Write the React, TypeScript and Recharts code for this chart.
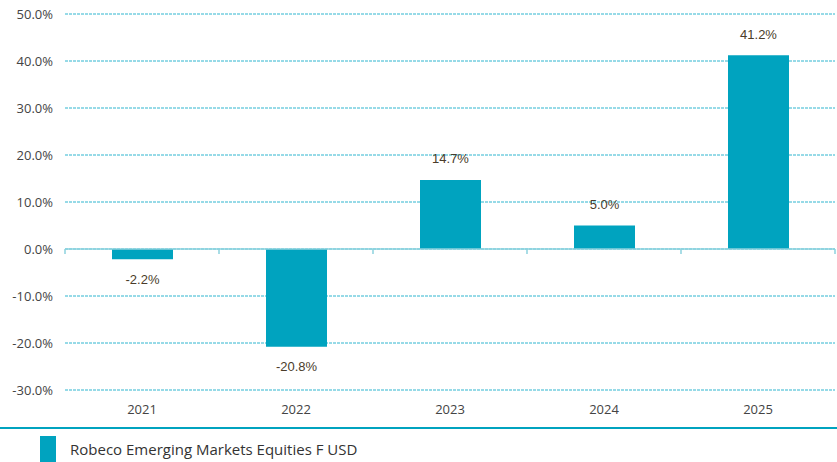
import { BarChart, Bar, XAxis, YAxis, CartesianGrid, ReferenceLine, LabelList, Legend } from "recharts";

// ─── Data ─────────────────────────────────────────────────────────────────────
const YEARS = ["2021", "2022", "2023", "2024", "2025"];
const RETURNS = [-2.2, -20.8, 14.7, 5.0, 41.2];
const Y_TICKS = [-30, -20, -10, 0, 10, 20, 30, 40, 50];
const SERIES_NAME = "Robeco Emerging Markets Equities F USD";

const data = YEARS.map((year, i) => ({ year, value: RETURNS[i] }));

const BAR = "#00a3bf";
const GRID = "#2fb5cf";
const ZERO = "#8dd2de";
const FONT = "'Open Sans', 'Noto Sans', sans-serif";

// value label above positive bars, below negative ones
const ValueLabel = (props: any) => {
  const { x, y, width, height, value } = props;
  const top = Math.min(y, y + height);
  const bottom = Math.max(y, y + height);
  const ty = value >= 0 ? top - 20 : bottom + 21;
  return (
    <text x={x + width / 2} y={ty} textAnchor="middle" dominantBaseline="middle"
      fontSize={13} fill="#4a3c2a" fontFamily="'Liberation Sans', Arial, sans-serif">
      {`${value.toFixed(1)}%`}
    </text>
  );
};

// zero line with small ticks at the category boundaries
const ZeroAxis = (props: any) => {
  const { x1, x2, y1 } = props;
  const step = (x2 - x1) / YEARS.length;
  return (
    <g>
      <line x1={x1} x2={x2} y1={y1} y2={y1} stroke={ZERO} strokeWidth={1.5} />
      {Array.from({ length: YEARS.length + 1 }, (_, i) => (
        <line key={i} x1={x1 + i * step} x2={x1 + i * step} y1={y1} y2={y1 + 5} stroke={ZERO} strokeWidth={1.5} />
      ))}
    </g>
  );
};

const LegendBox = () => (
  <div style={{ width: 837, height: 42, position: "relative", fontFamily: FONT }}>
    <div style={{ position: "absolute", left: 0, top: 7, width: 837, height: 2, background: BAR }} />
    <div style={{ position: "absolute", left: 40, top: 16, width: 16, height: 26, background: BAR }} />
    <div style={{ position: "absolute", left: 70, top: 18, fontSize: 15, color: "#333", lineHeight: "22px" }}>
      {SERIES_NAME}
    </div>
  </div>
);

export default function App() {
  return (
    <div style={{ position: "absolute", left: 0, top: 0, width: 837, height: 462, background: "#fff" }}>
      <BarChart width={837} height={462} data={data} margin={{ top: 14, right: 2, left: 0, bottom: 0 }}>
        <CartesianGrid vertical={false} stroke={GRID} strokeDasharray="3 1" />
        <XAxis dataKey="year" axisLine={false} tickLine={false} height={30} interval={0}
          tick={{ fontSize: 13, fill: "#444", fontFamily: FONT }} tickMargin={9} />
        <YAxis domain={[-30, 50]} ticks={Y_TICKS} width={65} axisLine={false} tickLine={false}
          tickFormatter={(v: number) => `${v.toFixed(1)}%`} tickMargin={6}
          tick={{ fontSize: 13, fill: "#444", fontFamily: FONT }} />
        <Legend verticalAlign="bottom" content={<LegendBox />}
          wrapperStyle={{ left: 0, bottom: 0, width: 837, height: 42 }} />
        <ReferenceLine y={0} shape={<ZeroAxis />} />
        <Bar dataKey="value" name={SERIES_NAME} fill={BAR} barSize={61} isAnimationActive={false}>
          <LabelList dataKey="value" content={<ValueLabel />} />
        </Bar>
      </BarChart>
    </div>
  );
}
